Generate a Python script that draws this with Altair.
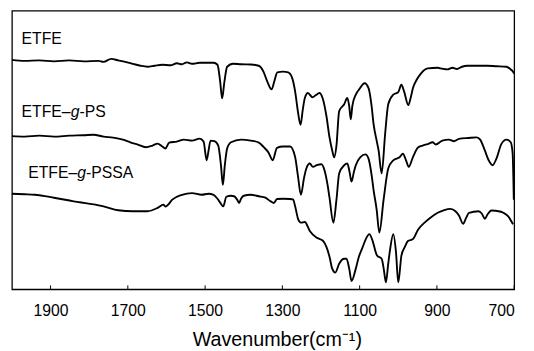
import altair as alt
import pandas as pd

# ---- data (wavenumber in cm-1, transmittance in arbitrary units) ----
etfe_wn = [2000, 1967, 1929, 1891, 1852, 1814, 1776, 1763, 1743, 1725,
           1707, 1687, 1667, 1649, 1631, 1611, 1590, 1573, 1560, 1547,
           1534, 1514, 1496, 1478, 1468, 1461, 1456, 1450, 1443, 1428,
           1407, 1382, 1361, 1349, 1339, 1328, 1321, 1313, 1298, 1285,
           1275, 1267, 1260, 1253, 1247, 1242, 1234, 1222, 1214, 1204,
           1196, 1186, 1178, 1171, 1166, 1160, 1153, 1140, 1132, 1127,
           1123, 1119, 1110, 1102, 1087, 1077, 1069, 1064, 1056, 1051,
           1043, 1034, 1026, 1013, 1000, 992, 985, 974, 967, 962,
           952, 941, 924, 898, 886, 873, 860, 848, 835, 822,
           797, 771, 746, 720, 708, 703, 700]
etfe_t = [233, 232, 232.5, 231.5, 232.5, 231.5, 232, 231, 234, 232.5,
          231, 229, 227, 226, 227, 228, 227.5, 229.5, 228.5, 230.5,
          229, 230, 230, 230, 228, 211, 194, 211, 226, 229,
          228.5, 228.3, 227, 221, 211, 203, 211, 220.3, 221, 220.3,
          215, 201, 181, 167, 183, 194, 199.3, 195, 197, 199.3,
          194.3, 176, 154.3, 141, 134, 146, 181, 188, 194.3, 186,
          172.7, 186, 197.7, 202.7, 209.3, 204.3, 186, 168, 151, 141,
          117.7, 158, 188, 197.7, 200.3, 207.7, 201, 187, 196, 204.3,
          213, 219.3, 224.3, 225, 224, 223.3, 225, 223.7, 226, 227,
          227, 227, 226.5, 226, 223, 221, 219]

ps_wn = [2000, 1967, 1929, 1891, 1852, 1814, 1789, 1763, 1738, 1713,
         1692, 1674, 1654, 1636, 1623, 1611, 1603, 1593, 1573, 1555,
         1534, 1514, 1504, 1496, 1491, 1486, 1476, 1466, 1459, 1454,
         1449, 1443, 1433, 1407, 1382, 1361, 1348, 1336, 1325, 1314,
         1298, 1280, 1267, 1260, 1252, 1244, 1238, 1229, 1221, 1211,
         1199, 1191, 1183, 1178, 1168, 1160, 1153, 1140, 1132, 1126,
         1121, 1115, 1110, 1098, 1085, 1077, 1069, 1064, 1056, 1049,
         1038, 1026, 1013, 996, 988, 980, 973, 962, 949, 937,
         924, 911, 903, 886, 869, 856, 843, 818, 797, 788,
         776, 766, 756, 746, 733, 720, 709, 704, 701]
ps_t = [155.5, 155, 156, 155, 156, 156.5, 157, 155, 154, 152,
        149, 147, 144.3, 146, 148, 145, 143, 149, 150, 152,
        151, 153, 150, 131, 141, 151, 150.5, 146, 126, 106,
        126, 143, 149.3, 152, 151, 149, 144.3, 139, 131, 143.7,
        145, 145, 134.3, 116, 96, 113, 122.7, 127.7, 124.3, 126,
        127, 121, 106, 93, 67.7, 91, 117.7, 126, 127.7, 119,
        109.3, 119, 126, 134.3, 137, 132.7, 116, 101, 81, 57.7,
        91, 122.7, 131, 134.3, 137.7, 131, 124.3, 134.3, 144, 146,
        147.5, 149.3, 147, 151, 152, 150.3, 152.7, 153.7, 154.3, 152,
        141, 131, 126, 132.7, 147.7, 152, 149.3, 138, 91]

pssa_wn = [2000, 1967, 1941, 1891, 1840, 1802, 1763, 1725, 1687, 1649,
           1623, 1608, 1603, 1598, 1585, 1560, 1534, 1509, 1491, 1478,
           1468, 1461, 1453, 1445, 1433, 1425, 1417, 1412, 1407, 1400,
           1382, 1361, 1344, 1331, 1322, 1314, 1298, 1280, 1272, 1267,
           1259, 1252, 1242, 1229, 1212, 1195, 1186, 1178, 1171, 1163,
           1153, 1140, 1134, 1127, 1121, 1110, 1102, 1094, 1084, 1075,
           1068, 1055, 1043, 1037, 1032, 1026, 1021, 1013, 1006, 1000,
           992, 983, 975, 962, 949, 932, 916, 898, 881, 865,
           852, 843, 832, 825, 817, 792, 784, 776, 769, 759,
           737, 728, 716, 703]
pssa_t = [97, 96.5, 96, 93, 89.3, 87, 84.3, 80.3, 79.3, 79.3,
          82.7, 86, 84, 85, 91, 96, 97.7, 96, 97, 96,
          92, 88, 84.3, 94, 95, 94.5, 91, 87.7, 92, 95,
          96, 94.5, 93, 89.5, 87.7, 91.7, 92, 91.7, 91, 84.3,
          71, 67.7, 68.3, 59.3, 52.5, 49.3, 43, 33, 21, 17,
          26, 31, 31, 21, 8.5, 21, 33, 41, 51, 56,
          51, 34.3, 31, 19, 7, 26, 41, 56, 38, 7,
          34, 43, 49, 51, 60.5, 67.7, 73, 77.7, 80.5, 81.7,
          79.3, 75, 66.5, 72, 77.7, 79.3, 77, 71.7, 76, 80,
          79, 77.7, 74.3, 66]

tick_values = [1900, 1700, 1500, 1300, 1100, 900, 700]

label_wn = [1975, 1975, 1958]
label_t = [249.3, 175, 112.7]
label_head = ["ETFE", "ETFE\u2013", "ETFE\u2013"]
label_ital = ["", "g", "g"]
label_tail = ["", "-PS", "-PSSA"]

# ---- tables ----
frames = []
for name, wn, t in [("ETFE", etfe_wn, etfe_t), ("ETFE-g-PS", ps_wn, ps_t),
                    ("ETFE-g-PSSA", pssa_wn, pssa_t)]:
    frames.append(pd.DataFrame({"series": name, "wn": wn, "t": t,
                                "i": range(len(wn))}))
spec_df = pd.concat(frames, ignore_index=True)
tick_df = pd.DataFrame({"wn": tick_values})
lab_df = pd.DataFrame({"wn": label_wn, "t": label_t, "head": label_head,
                       "ital": label_ital, "tail": label_tail})

W, H = 510, 283
FONT = "Liberation Sans"

x_scale = alt.Scale(domain=[2000, 700], nice=False, zero=False)
y_scale = alt.Scale(domain=[0, 283], nice=False, zero=False)

x_axis = alt.Axis(values=tick_values, format="d", ticks=False, tickSize=0,
                  domain=False, grid=False, labelFont=FONT, labelFontSize=16,
                  labelColor="black", labelPadding=14,
                  title="Wavenumber(cm\u207b\u00b9)", titleFont=FONT,
                  titleFontSize=20, titleFontWeight="normal",
                  titleColor="black", titlePadding=11, titleX=269)

lines = alt.Chart(spec_df).mark_line(color="black", strokeWidth=1.9,
                                     interpolate="monotone").encode(
    x=alt.X("wn:Q", scale=x_scale, axis=x_axis),
    y=alt.Y("t:Q", scale=y_scale, axis=None),
    detail="series:N",
    order="i:Q",
)

ticks = alt.Chart(tick_df).mark_rule(color="black", strokeWidth=1).encode(
    x=alt.X("wn:Q", scale=x_scale),
    y=alt.value(H),
    y2=alt.value(H - 4),
)

base_lab = alt.Chart(lab_df)
head = base_lab.mark_text(font=FONT, fontSize=16, align="left",
                          baseline="alphabetic", color="black").encode(
    x=alt.X("wn:Q", scale=x_scale), y=alt.Y("t:Q", scale=y_scale), text="head:N")
ital = base_lab.mark_text(font=FONT, fontSize=16, fontStyle="italic", align="left",
                          baseline="alphabetic", color="black", dx=49.8).encode(
    x=alt.X("wn:Q", scale=x_scale), y=alt.Y("t:Q", scale=y_scale), text="ital:N")
tail = base_lab.mark_text(font=FONT, fontSize=16, align="left",
                          baseline="alphabetic", color="black", dx=58.7).encode(
    x=alt.X("wn:Q", scale=x_scale), y=alt.Y("t:Q", scale=y_scale), text="tail:N")

chart = alt.layer(lines, ticks, head, ital, tail).properties(
    width=W, height=H, background="white",
    padding={"left": 0, "top": 0, "right": 8, "bottom": 0},
).configure_view(stroke="black", strokeWidth=1.3)

chart.save("out.html", embed_options={"renderer": "svg", "actions": False})
